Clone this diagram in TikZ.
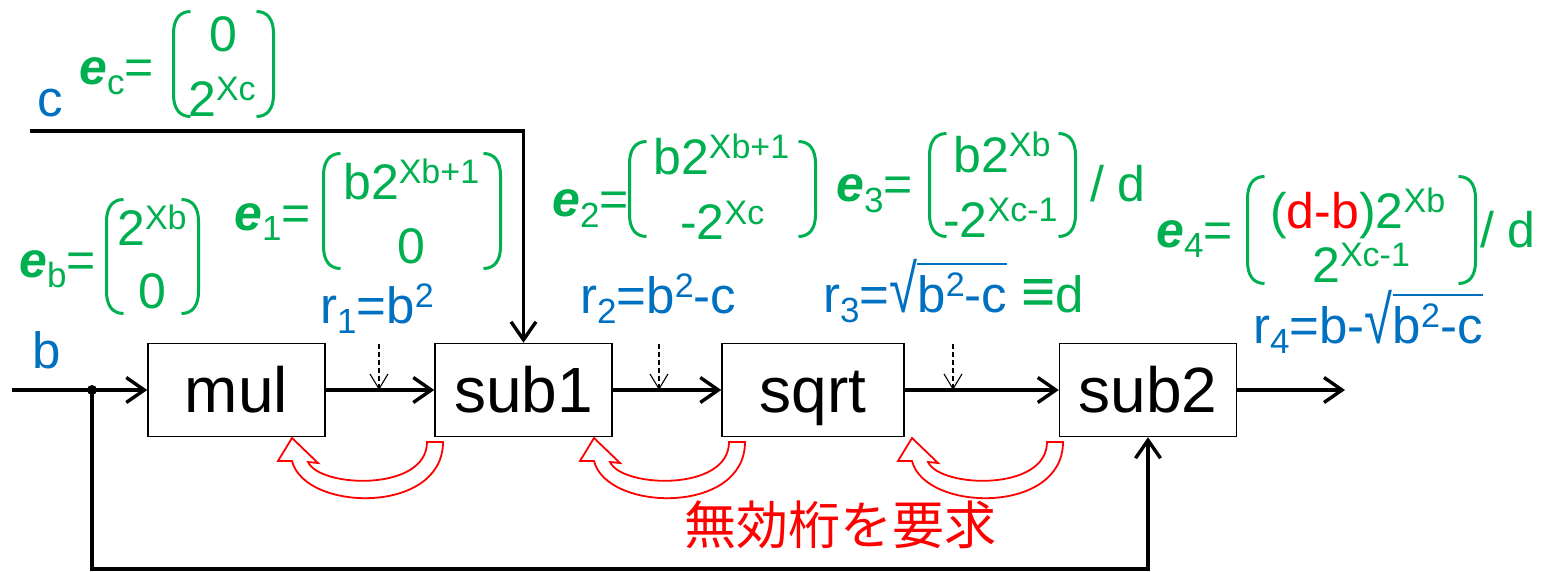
\documentclass[tikz,border=0pt]{standalone}
\usepackage{fontspec}
\usepackage{graphicx}
\setmainfont{Liberation Sans}
\newfontfamily\jpfont{Noto Sans CJK JP}
\usetikzlibrary{arrows.meta}
\definecolor{eqgreen}{RGB}{0,176,80}
\definecolor{rblue}{RGB}{0,112,192}
\newcommand\Sp[1]{\raisebox{16pt}{\fontsize{34}{34}\selectfont #1}}
\newcommand\Sb[1]{\raisebox{-10pt}{\fontsize{35}{35}\selectfont #1}}
\newcommand\ev[1]{{\bfseries\itshape e}\Sb{#1}}
\newcommand\Rt[1]{\scalebox{1}[1.32]{√}\setbox0=\hbox{#1}\rlap{\rule[47pt]{\wd0}{2.2pt}}\box0}
\newcommand\LPar[3]{\draw[paren] ({#1+17},#2) .. controls ({#1+6},#2) and (#1,{#2+8}) .. (#1,{#2+22}) -- (#1,{#3-22}) .. controls (#1,{#3-8}) and ({#1+6},#3) .. ({#1+17},#3);}
\newcommand\RPar[3]{\draw[paren] ({#1-17},#2) .. controls ({#1-6},#2) and (#1,{#2+8}) .. (#1,{#2+22}) -- (#1,{#3-22}) .. controls (#1,{#3-8}) and ({#1-6},#3) .. ({#1-17},#3);}
\begin{document}
\begin{tikzpicture}[x=1pt,y=-1pt,
  box/.style={draw=black, line width=1.5pt, minimum width=177pt, minimum height=93pt, inner sep=0pt,
    text height=50pt, text depth=5pt, font=\fontsize{64}{64}\selectfont},
  arr/.style={line width=3.4pt, -{Straight Barb[length=18pt,width=25pt]}},
  darr/.style={line width=1.1pt, dash pattern=on 5pt off 3pt, -{Straight Barb[length=15pt,width=18pt]}},
  txt/.style={inner sep=0pt, anchor=base west},
  eqt/.style={txt, text=eqgreen, font=\fontsize{50}{52}\selectfont},
  rt/.style={txt, text=rblue, font=\fontsize{51}{53}\selectfont},
  paren/.style={draw=eqgreen, line width=3pt},
  harrow/.pic={\draw[red, line width=1.8pt, fill=white, line join=miter]
     (0,0) -- (26,25) -- (16,24) .. controls (28,50) and (135,54) .. (135,4) -- (151,4)
     .. controls (151,77) and (13,74) .. (0,23) -- (-14,23) -- cycle;}
]
\useasboundingbox (0,0) rectangle (1544,572);

% boxes
\node[box] (mul)  at (236.5,390) {mul};
\node[box] (sub1) at (523.5,390) {sub1};
\node[box, minimum width=182pt] (sqrt) at (813,390) {sqrt};
\node[box] (sub2) at (1148,390) {sub2};

% coordinates
\coordinate (bin) at (12,390);
\coordinate (dot) at (92,390);
\coordinate (fb)  at (92,569);
\coordinate (cin) at (30,131);
\coordinate (out) at (1345,390);
\coordinate (da1) at (379,344);
\coordinate (da2) at (659,344);
\coordinate (da3) at (953,344);

% connectors
\draw[arr] (bin) -- (mul.west);
\fill (dot) circle (5pt);
\draw[arr] (dot) -- (fb) -| (sub2.south);
\draw[arr] (cin) -| (sub1.north);
\draw[arr] (mul.east) -- (sub1.west);
\draw[arr] (sub1.east) -- (sqrt.west);
\draw[arr] (sqrt.east) -- (sub2.west);
\draw[arr] (sub2.east) -- (out);
\draw[darr] (da1) -- (da1 |- mul.east);
\draw[darr] (da2) -- (da2 |- mul.east);
\draw[darr] (da3) -- (da3 |- mul.east);

% hollow arrows
\pic at (292,438) {harrow};
\pic at (594,438) {harrow};
\pic at (912,438) {harrow};
\node[text=red, font=\jpfont\fontsize{52}{52}\selectfont, inner sep=0pt] (req) at (840,525) {無効桁を要求};

% inputs
\node[rt] (lb) at (32,368) {b};
\node[rt] (lc) at (37,117) {c};

% e_c
\node[eqt] (ecl) at (79,85) {\ev{c}=};
\node[eqt] (ec1) at (209,52) {0};
\node[eqt] (ec2) at (188,117) {2\Sp{Xc}};
\LPar{173.5}{11.5}{116.5}
\RPar{273.5}{11.5}{116.5}

% e_b
\node[eqt] (ebl) at (19,277) {\ev{b}=};
\node[eqt] (eb1) at (117,245) {2\Sp{Xb}};
\node[eqt] (eb2) at (138,308) {0};
\LPar{106.5}{199.5}{313.5}
\RPar{198.5}{199.5}{313.5}

% e_1
\node[eqt] (e1l) at (234,230) {\ev{1}=};
\node[eqt] (e11) at (343,200) {b2\Sp{Xb+1}};
\node[eqt] (e12) at (397,263) {0};
\LPar{323.5}{153.5}{268.5}
\RPar{500.5}{153.5}{268.5}
\node[rt] (r1) at (320,323) {r\Sb{1}=b\Sp{2}};

% e_2
\node[eqt] (e2l) at (552,217) {\ev{2}=};
\node[eqt] (e21) at (653,175) {b2\Sp{Xb+1}};
\node[eqt] (e22) at (680,240) {-2\Sp{Xc}};
\LPar{629.5}{141.5}{236.5}
\RPar{815.5}{141.5}{236.5}
\node[rt] (r2) at (580,313) {r\Sb{2}=b\Sp{2}-c};

% e_3
\node[eqt] (e3l) at (836,202) {\ev{3}=};
\node[eqt] (e31) at (953,173) {b2\Sp{Xb}};
\node[eqt] (e32) at (943,237) {-2\Sp{Xc-1}};
\node[eqt] (e3d) at (1090,202) {/ d};
\LPar{929.5}{133.5}{236.5}
\RPar{1075.5}{133.5}{236.5}
\node[rt] (r3) at (823,312) {r\Sb{3}=\Rt{b\Sp{2}-c}\hspace{14pt}\textcolor{eqgreen}{\scalebox{1.15}[1.2]{≡}d}};

% e_4
\node[eqt] (e4l) at (1156,247) {\ev{4}=};
\node[eqt] (e41) at (1270,228) {(\textcolor{red}{d-b})2\Sp{Xb}};
\node[eqt] (e42) at (1312,282) {2\Sp{Xc-1}};
\node[eqt] (e4d) at (1480,247) {/ d};
\LPar{1247.5}{176.5}{283.5}
\RPar{1475.5}{176.5}{283.5}
\node[rt] (r4) at (1253,343) {r\Sb{4}=b-\Rt{b\Sp{2}-c}};
\end{tikzpicture}
\end{document}
